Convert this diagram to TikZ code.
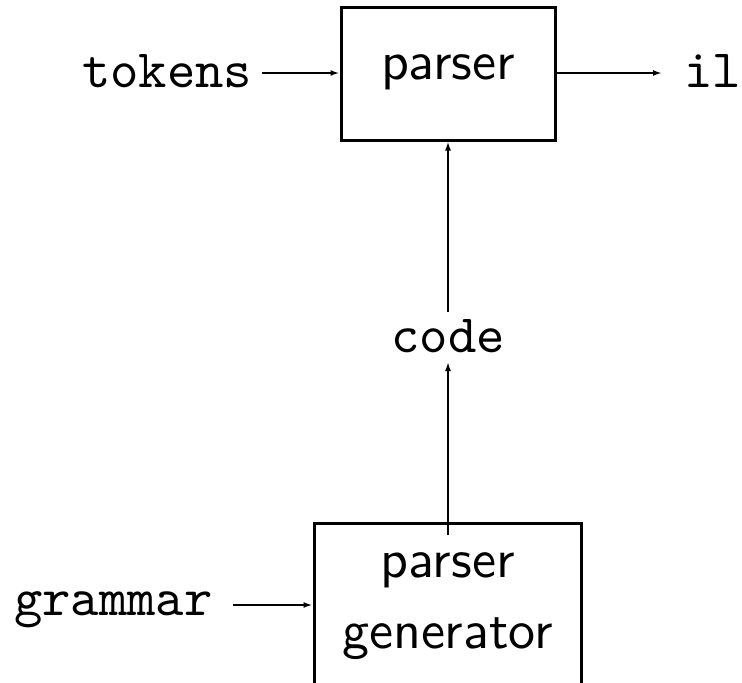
\documentclass[tikz,border=0pt]{standalone}
\usepackage{fontspec}
\setsansfont{lmsans10-regular.otf}
\setmonofont{lmmono10-regular.otf}
\usetikzlibrary{arrows.meta}
\begin{document}
\begin{tikzpicture}[x=1pt,y=-1pt,
  boxnode/.style={draw,line width=3pt,inner sep=0pt},
  ttlabel/.style={font=\fontsize{54}{60}\selectfont\ttfamily,inner sep=0pt,anchor=base},
  sflabel/.style={font=\fontsize{54}{60}\selectfont\sffamily,inner sep=0pt,anchor=base},
  conn/.style={line width=2pt,-{Latex[length=9pt,width=6pt]}}]
\useasboundingbox (0,0) rectangle (742,683);
% top box
\node[boxnode,minimum width=214pt,minimum height=133pt] (parser) at (448,73.5) {};
\node[sflabel] (parsertxt) at (448,79) {parser};
\node[ttlabel,anchor=base west] (tokens) at (82,87) {tokens};
\node[ttlabel,anchor=base east] (il) at (741,87) {il};
\node[ttlabel] (code) at (448,352) {code};
% bottom box (open at the bottom of the picture)
\node[boxnode,minimum width=267pt,minimum height=220pt] (pg) at (447.5,633) {};
\node[sflabel] (pgtxt1) at (447.5,577) {parser};
\node[sflabel] (pgtxt2) at (447.5,648) {generator};
\node[ttlabel,anchor=base west] (grammar) at (14,615) {grammar};
% connectors
\coordinate (tokR) at (262,73);
\coordinate (ilL) at (662,73);
\coordinate (codeT) at (448,312);
\coordinate (codeB) at (448,362);
\coordinate (pgIn) at (448,535);
\coordinate (gramR) at (233,605);
\draw[conn] (tokR) -- (tokR -| parser.west);
\draw[conn] (ilL -| parser.east) -- (ilL);
\draw[conn] (codeT) -- (parser.south);
\draw[conn] (pgIn) -- (codeB);
\draw[conn] (gramR) -- (gramR -| pg.west);
\end{tikzpicture}
\end{document}
